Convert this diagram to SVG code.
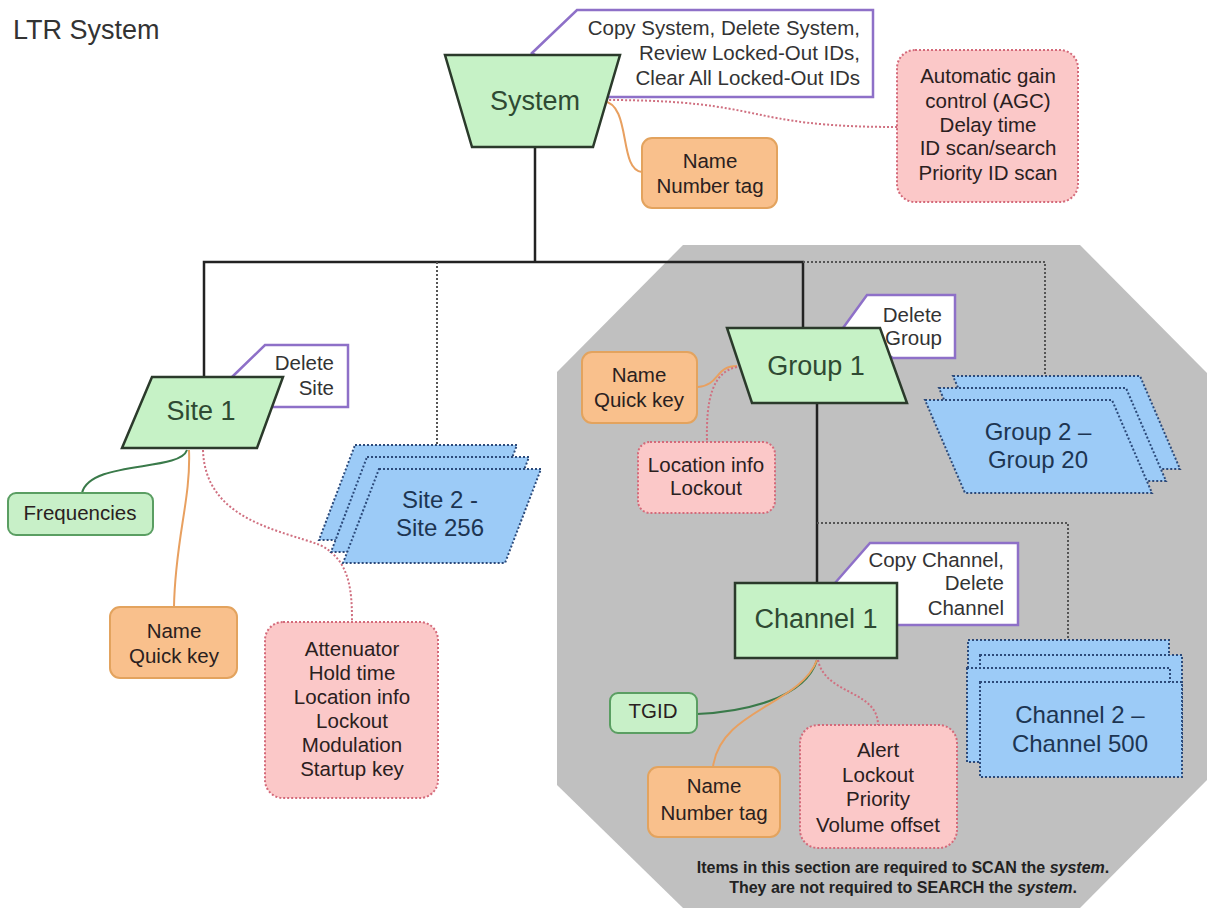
<svg xmlns="http://www.w3.org/2000/svg" width="1210" height="917" viewBox="0 0 1210 917">
<style>
text{font-family:"Liberation Sans",Arial,sans-serif}
.main{fill:#c6f2c6;stroke:#2b3a2b;stroke-width:2.5}
.mt{font-size:27px;fill:#2f4a33;text-anchor:middle}
.co{fill:#fff;stroke:#8e70c8;stroke-width:2.5}
.ct{font-size:20.5px;fill:#333;text-anchor:end}
.stk{fill:#9ccbf7;stroke:#2c4a7a;stroke-width:2;stroke-dasharray:2 2}
.st{font-size:24px;fill:#1d3552;text-anchor:middle}
.org{fill:#f9c08c;stroke:#e3a35e;stroke-width:2}
.pink{fill:#fbc8c8;stroke:#d46a7a;stroke-width:2;stroke-dasharray:2 2}
.grn{fill:#c8f0c8;stroke:#5a9e62;stroke-width:2}
.bt{font-size:20.5px;fill:#2a2020;text-anchor:middle}
.solid{fill:none;stroke:#222;stroke-width:2.5}
.dot{fill:none;stroke:#555;stroke-width:2;stroke-dasharray:2 2}
.lo{fill:none;stroke:#e8a060;stroke-width:2}
.lg{fill:none;stroke:#3a7a4a;stroke-width:2}
.lp{fill:none;stroke:#d07080;stroke-width:2;stroke-dasharray:2 2}
</style>
<rect width="1210" height="917" fill="#fff"/>
<text x="13" y="39" font-size="27" fill="#333">LTR System</text>
<polygon id="scan-section" points="683,245 1080,245 1207,373 1207,780 1080,908 683,908 557,785 557,372" fill="#c0c0c0"/>
<g id="connectors">
<polyline class="solid" points="535,147 535,262"/>
<polyline class="solid" points="204,377 204,262 803,262 803,328"/>
<polyline class="dot" points="437,262 437,445"/>
<polyline class="dot" points="803,262 1045,262 1045,376"/>
<polyline class="solid" points="817,403 817,583"/>
<polyline class="dot" points="817,523 1068,523 1068,640"/>
<path class="lo" d="M603,101 C632,104 618,170 642,172"/>
<path class="lp" d="M605,100 C770,100 740,127 897,127"/>
<path class="lg" d="M187,450 C180,472 90,460 82,493"/>
<path class="lo" d="M189,450 C191,500 175,540 174,607"/>
<path class="lp" d="M203,450 C205,520 280,530 320,545 C350,560 352,590 352,622"/>
<path class="lo" d="M737,366 C715,366 720,385 698,387"/>
<path class="lp" d="M737,367 C712,372 706,400 707,442"/>
<path class="lg" d="M817,660 C805,700 740,712 697,714"/>
<path class="lo" d="M817,660 C800,705 720,710 713,767"/>
<path class="lp" d="M818,660 C825,695 878,690 878,725"/>
</g>
<g id="system">
<polygon class="co" points="532,53 577,10 873,10 873,97 605,97"/>
<text class="ct" x="860" y="35">Copy System, Delete System,</text>
<text class="ct" x="860" y="60">Review Locked-Out IDs,</text>
<text class="ct" x="860" y="85">Clear All Locked-Out IDs</text>
<polygon class="main" points="445,55 620,55 593,147 472,147"/>
<text class="mt" x="535" y="110">System</text>
</g>
<g id="system-name">
<rect class="org" x="642" y="138" width="135" height="70" rx="10"/>
<text class="bt" x="710" y="168">Name</text>
<text class="bt" x="710" y="193">Number tag</text>
</g>
<g id="system-settings">
<rect class="pink" x="897" y="50" width="181" height="152" rx="18"/>
<text class="bt" x="988" y="83">Automatic gain</text>
<text class="bt" x="988" y="108">control (AGC)</text>
<text class="bt" x="988" y="132">Delay time</text>
<text class="bt" x="988" y="155">ID scan/search</text>
<text class="bt" x="988" y="180">Priority ID scan</text>
</g>
<g id="site1">
<polygon class="co" points="232,377 265,345 348,345 348,407 270,407"/>
<text class="ct" x="334" y="370">Delete</text>
<text class="ct" x="334" y="395">Site</text>
<polygon class="main" points="152,377 283,377 257,448 122,448"/>
<text class="mt" x="201" y="420">Site 1</text>
</g>
<g id="frequencies">
<rect class="grn" x="8" y="493" width="145" height="42" rx="8"/>
<text class="bt" x="80" y="520">Frequencies</text>
</g>
<g id="site-name">
<rect class="org" x="110" y="607" width="127" height="71" rx="10"/>
<text class="bt" x="174" y="638">Name</text>
<text class="bt" x="174" y="663">Quick key</text>
</g>
<g id="site-settings">
<rect class="pink" x="265" y="622" width="173" height="176" rx="18"/>
<text class="bt" x="352" y="656">Attenuator</text>
<text class="bt" x="352" y="680">Hold time</text>
<text class="bt" x="352" y="704">Location info</text>
<text class="bt" x="352" y="728">Lockout</text>
<text class="bt" x="352" y="752">Modulation</text>
<text class="bt" x="352" y="776">Startup key</text>
</g>
<g id="site2-256">
<polygon class="stk" points="355,445 517,445 481,540 319,540"/>
<polygon class="stk" points="367,457 529,457 493,552 331,552"/>
<polygon class="stk" points="379,469 541,469 505,563 343,563"/>
<text class="st" x="440" y="508">Site 2 -</text>
<text class="st" x="440" y="536">Site 256</text>
</g>
<g id="group1">
<polygon class="co" points="843,328 867,295 955,295 955,358 893,358"/>
<text class="ct" x="942" y="322">Delete</text>
<text class="ct" x="942" y="345">Group</text>
<polygon class="main" points="727,328 880,328 907,403 752,403"/>
<text class="mt" x="816" y="375">Group 1</text>
</g>
<g id="group-name">
<rect class="org" x="582" y="352" width="115" height="71" rx="10"/>
<text class="bt" x="639" y="382">Name</text>
<text class="bt" x="639" y="407">Quick key</text>
</g>
<g id="group-settings">
<rect class="pink" x="638" y="442" width="137" height="71" rx="12"/>
<text class="bt" x="706" y="472">Location info</text>
<text class="bt" x="706" y="495">Lockout</text>
</g>
<g id="group2-20">
<polygon class="stk" points="953,376 1140,376 1180,469 993,469"/>
<polygon class="stk" points="939,388 1126,388 1166,481 979,481"/>
<polygon class="stk" points="925,400 1112,400 1152,493 965,493"/>
<text class="st" x="1038" y="440">Group 2 –</text>
<text class="st" x="1038" y="468">Group 20</text>
</g>
<g id="channel1">
<polygon class="co" points="835,583 870,543 1018,543 1018,625 897,625"/>
<text class="ct" x="1004" y="567">Copy Channel,</text>
<text class="ct" x="1004" y="590">Delete</text>
<text class="ct" x="1004" y="615">Channel</text>
<rect class="main" x="735" y="583" width="162" height="75"/>
<text class="mt" x="816" y="628">Channel 1</text>
</g>
<g id="tgid">
<rect class="grn" x="610" y="693" width="87" height="40" rx="8"/>
<text class="bt" x="653" y="718">TGID</text>
</g>
<g id="channel-name">
<rect class="org" x="648" y="767" width="132" height="70" rx="10"/>
<text class="bt" x="714" y="793">Name</text>
<text class="bt" x="714" y="820">Number tag</text>
</g>
<g id="channel-settings">
<rect class="pink" x="800" y="725" width="157" height="123" rx="18"/>
<text class="bt" x="878" y="757">Alert</text>
<text class="bt" x="878" y="782">Lockout</text>
<text class="bt" x="878" y="806">Priority</text>
<text class="bt" x="878" y="832">Volume offset</text>
</g>
<g id="channel2-500">
<rect class="stk" x="968" y="640" width="201" height="95"/>
<rect class="stk" x="980" y="655" width="202" height="95"/>
<rect class="stk" x="967" y="668" width="203" height="94"/>
<rect class="stk" x="980" y="682" width="202" height="95"/>
<text class="st" x="1080" y="723">Channel 2 –</text>
<text class="st" x="1080" y="752">Channel 500</text>
</g>
<g id="note" font-size="16" font-weight="bold" fill="#222" text-anchor="middle">
<text x="903" y="873">Items in this section are required to SCAN the <tspan font-style="italic">system</tspan>.</text>
<text x="903" y="893">They are not required to SEARCH the <tspan font-style="italic">system</tspan>.</text>
</g>
</svg>
